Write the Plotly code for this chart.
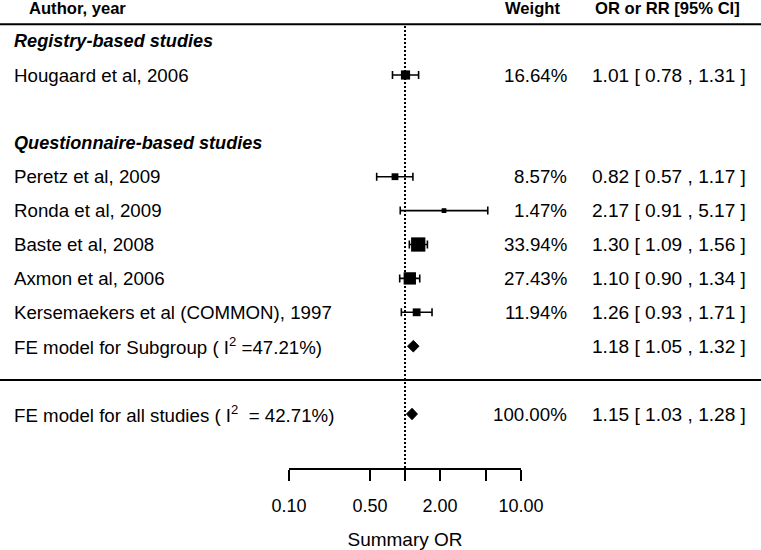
import plotly.graph_objects as go

# ---------------- data ----------------
studies = ["Hougaard et al, 2006", "Peretz et al, 2009", "Ronda et al, 2009",
           "Baste et al, 2008", "Axmon et al, 2006", "Kersemaekers et al (COMMON), 1997"]
est = [1.01, 0.82, 2.17, 1.30, 1.10, 1.26]
lo = [0.78, 0.57, 0.91, 1.09, 0.90, 0.93]
hi = [1.31, 1.17, 5.17, 1.56, 1.34, 1.71]
weights = [16.64, 8.57, 1.47, 33.94, 27.43, 11.94]
study_rows = [11, 8, 7, 6, 5, 4]

summary_labels = ["FE model for Subgroup ( I<sup>2</sup> =47.21%)",
                  "FE model for all studies ( I<sup>2</sup>  = 42.71%)"]
summary_est = [1.18, 1.15]
summary_lo = [1.05, 1.03]
summary_hi = [1.32, 1.28]
summary_weight = ["", "100.00%"]
summary_rows = [3, 1]

group_labels = ["Registry-based studies", "Questionnaire-based studies"]
group_rows = [12, 9]

tick_vals = [0.1, 0.5, 1, 2, 5, 10]
tick_text = ["0.10", "0.50", "", "2.00", "", "10.00"]

# ---------------- layout helpers ----------------
W, H = 761, 550
ROW0_PX, ROW_PX = 414.0, 33.9          # pixel of row 1, pixels per row
def px_to_row(p):
    return 1 + (ROW0_PX - p) / ROW_PX
YBOT, YTOP = px_to_row(H), px_to_row(0)
AXIS_ROW = px_to_row(469)
HEADER_ROW = px_to_row(8)
def row_to_paper(r):
    return (r - YBOT) / (YTOP - YBOT)
def xp(px):
    return px / W

FONT = "Arial, Liberation Sans, sans-serif"
FS = 18.7

fig = go.Figure()

# reference dotted line at 1
fig.add_trace(go.Scatter(x=[1, 1], y=[px_to_row(26), AXIS_ROW], mode="lines",
                         line=dict(color="black", width=2, dash="2px,2px"),
                         hoverinfo="skip", showlegend=False, cliponaxis=False))

# study squares with CIs
smin, smax = min(weights), max(weights)
sizes = [9.5 * (0.5 + (w - smin) / (smax - smin)) for w in weights]
fig.add_trace(go.Scatter(
    x=est, y=study_rows, mode="markers",
    marker=dict(symbol="square", size=sizes, color="black", opacity=1, line=dict(width=0)),
    error_x=dict(type="data", symmetric=False,
                 array=[h - e for h, e in zip(hi, est)],
                 arrayminus=[e - l for e, l in zip(est, lo)],
                 color="black", thickness=1.6, width=4),
    showlegend=False, cliponaxis=False))

# summary diamonds
HALF = 0.17
for e, l, h, r in zip(summary_est, summary_lo, summary_hi, summary_rows):
    fig.add_trace(go.Scatter(x=[l, e, h, e, l], y=[r, r + HALF, r, r - HALF, r],
                             mode="lines", fill="toself", fillcolor="black",
                             line=dict(color="black", width=1),
                             showlegend=False, hoverinfo="skip", cliponaxis=False))

# horizontal separator lines
for r in [12.5, 2.0]:
    fig.add_shape(type="line", xref="paper", yref="y", x0=0, x1=1, y0=r, y1=r,
                  line=dict(color="black", width=2))

ann = []
def text(x_px, y, s, anchor="left", size=FS):
    ann.append(dict(x=xp(x_px), y=y, xref="paper", yref="y", text=s, showarrow=False,
                    xanchor=anchor, yanchor="middle",
                    font=dict(family=FONT, size=size, color="black")))

# headers
HS = 16.6
text(27, HEADER_ROW, "<b>Author, year</b>", size=HS)
text(503, HEADER_ROW, "<b>Weight</b>", size=HS)
text(593, HEADER_ROW, "<b>OR or RR [95% CI]</b>", size=HS)

for g, r in zip(group_labels, group_rows):
    text(12, r, "<b><i>" + g + "</i></b>", size=18.1)

def ci_str(e, l, h):
    return "%.2f [ %.2f , %.2f ]" % (e, l, h)

CS = 19.1
for s, e, l, h, w, r in zip(studies, est, lo, hi, weights, study_rows):
    text(12, r, s)
    text(569, r, "%.2f%%" % w, anchor="right")
    text(748, r, ci_str(e, l, h), anchor="right", size=CS)

for s, e, l, h, w, r in zip(summary_labels, summary_est, summary_lo, summary_hi,
                            summary_weight, summary_rows):
    text(12, r, s)
    if w:
        text(569, r, w, anchor="right")
    text(748, r, ci_str(e, l, h), anchor="right", size=CS)

fig.update_layout(
    template="none",
    width=W, height=H, autosize=False,
    margin=dict(l=0, r=0, t=0, b=0, pad=0, autoexpand=False),
    paper_bgcolor="white", plot_bgcolor="white", showlegend=False,
    annotations=ann,
    xaxis=dict(type="log", range=[-1, 1], domain=[xp(289), xp(521)],
               anchor="free", position=row_to_paper(AXIS_ROW), automargin=False,
               showline=True, linecolor="black", linewidth=1.5,
               ticks="outside", ticklen=11, tickwidth=1.5, tickcolor="black",
               tickvals=tick_vals, ticktext=tick_text, showgrid=False, zeroline=False,
               tickfont=dict(family=FONT, size=18, color="black"),
               ticklabelstandoff=10,
               title=dict(text="Summary OR", font=dict(family=FONT, size=19, color="black"),
                          standoff=21)),
    yaxis=dict(range=[YBOT, YTOP], visible=False, domain=[0, 1], automargin=False),
)

fig.write_html("out.html", config={"displayModeBar": False},
               post_script="document.body.style.margin='0';document.body.style.overflow='hidden';")
